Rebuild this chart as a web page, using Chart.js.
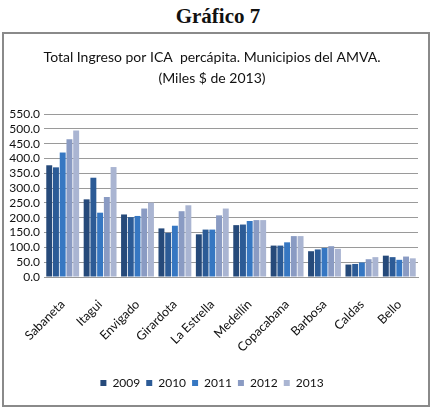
<!DOCTYPE html>
<html><head><meta charset="utf-8">
<script src="https://cdn.jsdelivr.net/npm/chart.js@4"></script>
<style>
html,body{margin:0;padding:0;background:#fff;width:432px;height:408px;overflow:hidden;}
#h{position:absolute;left:0;top:4px;width:436px;text-align:center;font:bold 21px "Liberation Serif","Times New Roman",serif;color:#111;}
#box{position:absolute;left:2px;top:32px;width:424px;height:371px;border:2px solid #8a8a8a;}
canvas{display:block;}
</style></head><body>
<div id="h">Gráfico 7</div>
<div id="box"><canvas id="c" width="424" height="371"></canvas></div>
<script>
const categories = ["Sabaneta","Itagui","Envigado","Girardota","La Estrella","Medellín","Copacabana","Barbosa","Caldas","Bello"];
const years = ["2009","2010","2011","2012","2013"];
const v2009 = [377, 262, 211, 164, 144, 175, 106, 87, 42, 72];
const v2010 = [370, 335, 202, 149, 160, 177, 106, 93, 44, 67];
const v2011 = [420, 217, 206, 173, 160, 189, 117, 98, 49, 58];
const v2012 = [465, 270, 231, 222, 208, 192, 138, 104, 60, 69];
const v2013 = [494, 371, 251, 242, 231, 192, 138, 95, 67, 63];
const colors = ["#264a7a","#2c5b96","#3677c2","#8a9bc3","#aab5d2"];
const FONT = "Lato,'Liberation Sans',Arial,sans-serif";
const series = [v2009,v2010,v2011,v2012,v2013];
new Chart(document.getElementById('c'), {
  type: 'bar',
  data: {
    labels: categories,
    datasets: series.map((d,i)=>({label: years[i], data: d, backgroundColor: colors[i], borderWidth: 0, categoryPercentage: 0.9, barPercentage: 0.88}))
  },
  options: {
    responsive: false, animation: false,
    layout: {padding: {left: 2, right: 10, top: 4, bottom: 6}},
    plugins: {
      title: {display: true, text: ["Total Ingreso por ICA  percápita. Municipios del AMVA.","(Miles $ de 2013)"], color: "#111", font: {family: FONT, size: 14, weight: 'normal', lineHeight: 1.5}, padding: {top: 9, bottom: 25}},
      legend: {position: 'bottom', labels: {boxWidth: 6, boxHeight: 6, color: "#111", font: {family: FONT, size: 12}, padding: 6}},
      tooltip: {enabled: false}
    },
    scales: {
      x: {afterFit: s => { s.height = 94; }, grid: {display: false}, border: {color: "#999"}, ticks: {color: "#111", font: {family: FONT, size: 12.5}, maxRotation: 45, minRotation: 45, padding: 12}},
      y: {min: 0, max: 550,
          afterFit: s => { s.width = 38; },
          grid: {color: "#9a9a9a", drawTicks: false}, border: {display: false},
          ticks: {stepSize: 50, autoSkip: false, color: "#111", padding: 4, font: {family: FONT, size: 12}, callback: v => Number(v).toFixed(1)}}
    }
  }
});
</script>
</body></html>
